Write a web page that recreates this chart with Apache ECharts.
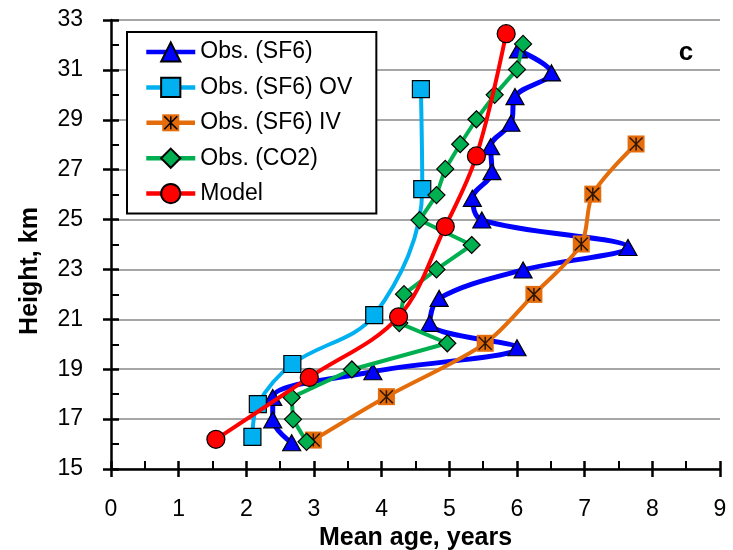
<!DOCTYPE html>
<html>
<head>
<meta charset="utf-8">
<script src="https://cdn.jsdelivr.net/npm/echarts@6/dist/echarts.min.js"></script>
<style>
html, body { margin: 0; padding: 0; background: #fff; }
#chart { width: 733px; height: 550px; }
</style>
</head>
<body>
<div id="chart"></div>
<script>
// mean age (years) against height (km)
const sf6Age      = [2.67, 2.39, 2.39, 3.87, 6.00, 4.71, 4.85, 6.09, 7.64, 5.48, 5.34, 5.63, 5.61, 5.91, 5.97, 6.51, 6.02];
const sf6Height   = [16.05, 16.97, 17.87, 18.9, 19.86, 20.84, 21.84, 22.98, 23.88, 24.98, 25.85, 26.92, 27.92, 28.86, 29.93, 30.88, 31.8];
const ovAge       = [2.09, 2.17, 2.68, 3.89, 4.60, 4.58];
const ovHeight    = [16.29, 17.6, 19.21, 21.17, 26.22, 30.23];
const ivAge       = [2.99, 4.07, 5.53, 6.25, 6.95, 7.12, 7.76];
const ivHeight    = [16.16, 17.9, 20.04, 22.0, 24.02, 26.02, 28.03];
const co2Age      = [2.89, 2.69, 2.67, 3.56, 4.97, 4.26, 4.33, 4.81, 5.33, 4.56, 4.81, 4.94, 5.16, 5.40, 5.67, 6.00, 6.09];
const co2Height   = [16.09, 16.99, 17.87, 18.99, 20.04, 20.85, 22.01, 23.0, 23.98, 24.98, 25.98, 27.03, 28.02, 29.02, 30.0, 31.02, 32.04];
const modelAge    = [1.55, 2.93, 4.25, 4.94, 5.40, 5.84];
const modelHeight = [16.19, 18.67, 21.1, 24.72, 27.55, 32.45];
const names = ['Obs. (SF6)', 'Obs. (SF6) OV', 'Obs. (SF6) IV', 'Obs. (CO2)', 'Model'];

const pairs = (xs, ys) => xs.map((x, i) => [x, ys[i]]);
const font = 'Liberation Sans';
const orange = '#E46C0A';

const starPath = 'path://M0 0L10 10M10 0L0 10M5 0L5 10';
const ivIconSvg =
  '<svg xmlns="http://www.w3.org/2000/svg" width="49" height="24">' +
  '<line x1="0" y1="12" x2="49" y2="12" stroke="' + orange + '" stroke-width="4.5"/>' +
  '<rect x="16" y="3.5" width="17" height="17" fill="' + orange + '"/>' +
  '<path d="M18 5.5L31 18.5M31 5.5L18 18.5M24.5 5.5L24.5 18.5" stroke="#000" stroke-width="1.5"/>' +
  '</svg>';
const ivIcon = 'image://data:image/svg+xml;charset=utf-8,' + encodeURIComponent(ivIconSvg);

const myChart = echarts.init(document.getElementById('chart'));

const tickStyle = { color: '#000', width: 2.5 };
const option = {
  animation: false,
  textStyle: { fontFamily: font },
  grid: { left: 111, right: 13, top: 20, bottom: 81, outerBoundsMode: 'none' },
  xAxis: [
    {
      type: 'value', min: 0, max: 9, interval: 1,
      name: 'Mean age, years', nameLocation: 'middle', nameGap: 54,
      nameTextStyle: { fontFamily: font, fontWeight: 'bold', fontSize: 25, color: '#000' },
      axisLine: { lineStyle: { color: '#000', width: 2.5 } },
      axisTick: { inside: false, length: 8, lineStyle: tickStyle },
      axisLabel: { margin: 29, fontSize: 23, color: '#000', fontFamily: font },
      splitLine: { show: false }
    },
    {
      type: 'value', min: 0, max: 9, interval: 1, position: 'bottom',
      axisLine: { show: false },
      axisTick: { inside: true, length: 8, lineStyle: tickStyle },
      minorTick: { show: true, splitNumber: 2, length: 8, lineStyle: { color: '#000', width: 2 } },
      axisLabel: { show: false },
      splitLine: { show: false }
    }
  ],
  yAxis: [
    {
      type: 'value', min: 15, max: 33, interval: 2,
      axisLine: { lineStyle: { color: '#000', width: 2.5 } },
      axisTick: { inside: false, length: 8, lineStyle: tickStyle },
      axisLabel: { margin: 28, fontSize: 23, color: '#000', fontFamily: font },
      splitLine: { show: true, lineStyle: { color: '#A6A6A6', width: 2 } }
    },
    {
      type: 'value', min: 15, max: 33, interval: 2, position: 'left',
      axisLine: { show: false },
      axisTick: { inside: true, length: 8, lineStyle: tickStyle },
      minorTick: { show: true, splitNumber: 2, length: 8, lineStyle: { color: '#000', width: 2 } },
      axisLabel: { show: false },
      splitLine: { show: false }
    }
  ],
  legend: {
    orient: 'vertical', left: 127, top: 32,
    padding: [8, 24, 8, 17], itemGap: 11.4, itemWidth: 49, itemHeight: 24,
    borderColor: '#000', borderWidth: 2, backgroundColor: '#fff',
    lineStyle: { width: 4.5 },
    textStyle: { fontSize: 23, lineHeight: 24, fontFamily: font, color: '#000' },
    data: [
      { name: names[0] },
      { name: names[1] },
      { name: names[2], icon: ivIcon },
      { name: names[3] },
      { name: names[4] }
    ]
  },
  graphic: [
    {
      type: 'text', x: 30, y: 271, rotation: Math.PI / 2,
      style: { text: 'Height, km', font: 'bold 25px "Liberation Sans"', fill: '#000', align: 'center', verticalAlign: 'middle' }
    },
    {
      type: 'text', x: 686, y: 53,
      style: { text: 'c', font: 'bold 26px "Liberation Sans"', fill: '#000', align: 'center', verticalAlign: 'middle' }
    }
  ],
  series: [
    {
      name: names[0], type: 'line', z: 10, smooth: 0.35,
      data: pairs(sf6Age, sf6Height),
      symbol: 'triangle', symbolSize: [18, 16],
      lineStyle: { color: '#0000FF', width: 5 },
      itemStyle: { color: '#0000FF', borderColor: '#000', borderWidth: 1.2 }
    },
    {
      name: names[1], type: 'line', z: 20, smooth: 0.35,
      data: pairs(ovAge, ovHeight),
      symbol: 'rect', symbolSize: 17,
      lineStyle: { color: '#00B0F0', width: 4 },
      itemStyle: { color: '#00B0F0', borderColor: '#000', borderWidth: 1.2 }
    },
    {
      name: names[2], type: 'line', z: 30, smooth: 0.3,
      data: pairs(ivAge, ivHeight),
      symbol: 'rect', symbolSize: 17,
      lineStyle: { color: orange, width: 4 },
      itemStyle: { color: orange, borderWidth: 0 }
    },
    {
      // black star drawn over the orange squares
      name: 'iv-star', type: 'scatter', z: 31,
      data: pairs(ivAge, ivHeight),
      symbol: starPath, symbolSize: 13,
      itemStyle: { color: 'transparent', borderColor: '#000', borderWidth: 1.5 }
    },
    {
      name: names[3], type: 'line', z: 40,
      data: pairs(co2Age, co2Height),
      symbol: 'diamond', symbolSize: 17,
      lineStyle: { color: '#00B050', width: 4 },
      itemStyle: { color: '#00B050', borderColor: '#000', borderWidth: 1.2 }
    },
    {
      name: names[4], type: 'line', z: 50, smooth: 0.35,
      data: pairs(modelAge, modelHeight),
      symbol: 'circle', symbolSize: 18,
      lineStyle: { color: '#FF0000', width: 4 },
      itemStyle: { color: '#FF0000', borderColor: '#000', borderWidth: 1.2 }
    }
  ]
};
myChart.setOption(option);
</script>
</body>
</html>
